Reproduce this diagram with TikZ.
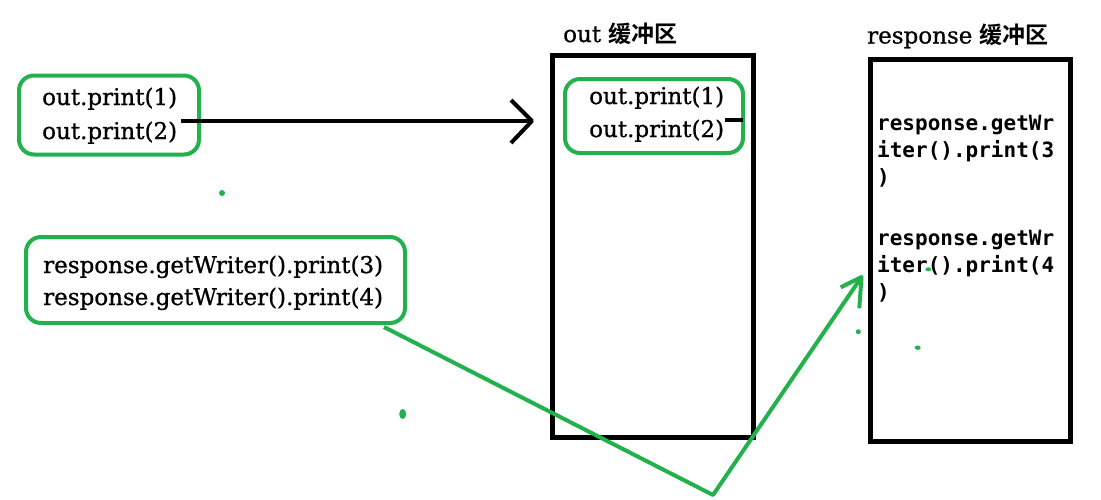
\documentclass[tikz,border=0pt]{standalone}
\usepackage{fontspec}
\setmainfont{DejaVu Serif}[FakeBold=0.8]
\newfontfamily\cjk{Noto Sans CJK SC}[BoldFont={* Bold}]
\newfontfamily\monof{DejaVu Sans Mono}
\definecolor{pgreen}{HTML}{22B14C}
\begin{document}
\begin{tikzpicture}[x=1pt,y=-1pt,
  gbox/.style={draw=pgreen,line width=4pt,rounded corners=15pt,inner sep=0pt,minimum width=#1},
  bufbox/.style={draw=black,line width=5pt,inner sep=0pt},
  codetext/.style={anchor=base west,inner sep=0pt,font=\fontsize{23}{28}\selectfont},
  monotext/.style={anchor=base west,inner sep=0pt,font=\monof\bfseries\fontsize{21}{27}\selectfont},
  labeltext/.style={anchor=base west,inner sep=0pt,font=\fontsize{23}{28}\selectfont},
  blkline/.style={draw=black,line width=4pt,line join=round},
  grnline/.style={draw=pgreen,line width=4pt,line join=round},
  gdot/.style={fill=pgreen,draw=none}]
\useasboundingbox[fill=white] (0,0) rectangle (1101,499);

% buffers
\node[bufbox,minimum width=201pt,minimum height=382.5pt] (outbuf) at (653,246.25) {};
\node[bufbox,minimum width=200pt,minimum height=382.5pt] (respbuf) at (970,250.25) {};
\node[labeltext] (outlabel) at (563,42) {out {\cjk\bfseries 缓冲区}};
\node[labeltext] (resplabel) at (867,43.5) {response {\cjk\bfseries 缓冲区}};

% green boxes
\node[gbox=180pt,minimum height=79pt] (outsrc) at (109,115) {};
\node[gbox=178pt,minimum height=74pt] (outin) at (654,116) {};
\node[gbox=379pt,minimum height=86pt] (respsrc) at (215.5,280) {};

% texts
\node[codetext] (t1) at (42,105) {out.print(1)};
\node[codetext] (t2) at (42,139) {out.print(2)};
\node[codetext] (i1) at (589,104) {out.print(1)};
\node[codetext] (i2) at (589,137) {out.print(2)};
\node[codetext] (r1) at (43,273) {response.getWriter().print(3)};
\node[codetext] (r2) at (43,305) {response.getWriter().print(4)};

\node[monotext] (m1) at (877,130) {response.getWr};
\node[monotext] (m2) at (877,157) {iter().print(3};
\node[monotext] (m3) at (877,184) {)};
\node[monotext] (m4) at (877,245) {response.getWr};
\node[monotext] (m5) at (877,272) {iter().print(4};
\node[monotext] (m6) at (877,299) {)};

% black arrow
\coordinate (as) at (181,121);
\coordinate (at) at (532,121);
\coordinate (aa1) at (511,100);
\coordinate (aa2) at (511,143);
\draw[blkline] (as) -- (at);
\draw[blkline] (aa1) -- (at) -- (aa2);
\coordinate (stubs) at (725,120);
\coordinate (stube) at (743,120);
\draw[blkline] (stubs) -- (stube);

% green arrow
\coordinate (gs) at (384,327);
\coordinate (gv) at (713,495);
\coordinate (gt) at (861.5,277);
\coordinate (ga1) at (840.7,287.3);
\coordinate (ga2) at (859.3,308.3);
\draw[grnline] (gs) -- (gv) -- (gt);
\draw[grnline] (ga1) -- (gt) -- (ga2);

% stray dots
\fill[gdot] (222,193) circle[radius=3pt];
\fill[gdot] (402.7,414) ellipse[x radius=3.5pt,y radius=5pt];
\fill[gdot] (858.3,331.7) circle[radius=2.5pt];
\fill[gdot] (917.7,347.7) ellipse[x radius=3pt,y radius=2.2pt];
\fill[gdot] (928.3,269.3) ellipse[x radius=3pt,y radius=2pt];
\end{tikzpicture}
\end{document}
